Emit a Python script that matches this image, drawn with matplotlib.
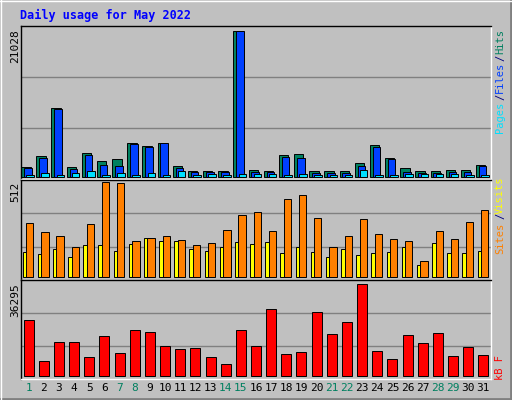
import matplotlib
matplotlib.use("Agg")
import matplotlib.pyplot as plt
import numpy as np

days = list(range(1, 32))
weekend = [1, 7, 8, 14, 15, 21, 22, 28, 29]
hits = [1522, 3092, 9942, 1522, 3520, 2379, 2664, 4947, 4519, 4947, 1665, 951, 951, 951, 21028, 1094,
        951, 3235, 3377, 951, 951, 951, 2093, 4662, 2807, 1380, 951, 951, 1094, 1094, 1808]
files = [1380, 2807, 9800, 1237, 3235, 1808, 1665, 4805, 4376, 4947, 1380, 809, 809, 809, 20931, 809,
         809, 2949, 2807, 666, 666, 666, 1665, 4376, 2664, 809, 666, 666, 809, 809, 1665]
pages = [380, 666, 380, 666, 951, 380, 666, 380, 666, 380, 951, 380, 523, 380, 523, 523,
         523, 380, 523, 380, 380, 380, 1094, 380, 380, 523, 523, 523, 523, 380, 380]
visits = [137, 126, 153, 109, 170, 170, 142, 176, 209, 192, 192, 153, 142, 164, 187, 176,
          187, 131, 159, 137, 109, 153, 120, 131, 137, 159, 65, 181, 131, 131, 142]
sites = [292, 242, 220, 159, 286, 512, 508, 192, 209, 220, 198, 170, 181, 253, 336, 353,
         248, 419, 442, 320, 159, 220, 314, 231, 203, 192, 87, 248, 203, 298, 359]
kbytes = [22043, 5808, 13332, 13332, 7392, 15708, 8976, 18084, 17292, 11748, 10560, 10956, 7392, 4620,
          18084, 11748, 26400, 8580, 9372, 25212, 16500, 21252, 36295, 9768, 6600, 16104, 12936,
          16896, 7788, 11352, 8184]

W, H = 512, 400
BG = "#C0C0C0"
fig = plt.figure(figsize=(W/100, H/100), dpi=100, facecolor=BG)
fig.add_artist(plt.Line2D([0, 1], [1/H, 1/H], color="#808080", lw=2))
fig.add_artist(plt.Line2D([1-1/W, 1-1/W], [0, 1], color="#808080", lw=2))
fig.add_artist(plt.Line2D([0, 1], [1-0.5/H, 1-0.5/H], color="white", lw=1))
fig.add_artist(plt.Line2D([0.5/W, 0.5/W], [0, 1], color="white", lw=1))

def ax_px(x0, y0, x1, y1):
    return fig.add_axes([x0/W, 1-y1/H, (x1-x0)/W, (y1-y0)/H])

L, R = 21, 491
x = np.arange(31)
mono = "DejaVu Sans Mono"

def style(ax, ymax):
    ax.set_facecolor(BG)
    ax.set_xlim(-0.5, 30.5)
    ax.set_ylim(0, ymax)
    ax.set_xticks([]); ax.set_yticks([])
    for s in ax.spines.values():
        s.set_color("black"); s.set_linewidth(1)
    ax.spines["bottom"].set_color("white"); ax.spines["right"].set_color("white")
    for f in (1/3, 2/3):
        ax.axhline(ymax*f, color="#808080", lw=1, zorder=0)

ax1 = ax_px(L, 26, R, 179)
m1 = max(hits)/0.96
style(ax1, m1)
base = m1*0.01
ax1.bar(x-0.18, hits, width=0.62, bottom=base, color="#008060", edgecolor="black", lw=0.7)
ax1.bar(x-0.05, files, width=0.5, bottom=base, color="#0040FF", edgecolor="black", lw=0.7)
ax1.bar(x+0.1, pages, width=0.5, bottom=base, color="#00E0FF", edgecolor="black", lw=0.7)

ax2 = ax_px(L, 180, R, 280)
m2 = max(sites)/0.95
style(ax2, m2)
ax2.bar(x-0.24, visits, width=0.3, bottom=m2*0.03, color="#FFFF00", edgecolor="black", lw=0.7)
ax2.bar(x+0.08, sites, width=0.48, bottom=m2*0.03, color="#FF8000", edgecolor="black", lw=0.7)

ax3 = ax_px(L, 280, R, 379)
m3 = max(kbytes)/0.93
style(ax3, m3)
ax3.bar(x, kbytes, width=0.66, bottom=m3*0.03, color="#FF0000", edgecolor="black", lw=0.7)

for i, d in enumerate(days):
    ax3.text(i, -0.09, str(d), transform=ax3.get_xaxis_transform(), ha="center", va="center",
             fontsize=8, family=mono, color="#008060" if d in weekend else "black")

fig.text(15/W, 1-29/H, "21028", rotation=90, ha="center", va="top", fontsize=8, family=mono)
fig.text(15/W, 1-182/H, "512", rotation=90, ha="center", va="top", fontsize=8, family=mono)
fig.text(15/W, 1-283/H, "36295", rotation=90, ha="center", va="top", fontsize=8, family=mono)

fig.text(20/W, 1-15/H, "Daily usage for May 2022", ha="left", va="center", fontsize=8.5,
         family=mono, weight="bold", color="#0000FF")

def rlabel(y, txt, color):
    fig.text(500/W, 1-y/H, txt, rotation=90, ha="center", va="center", fontsize=7.5, family=mono, color=color)
rlabel(41, "Hits", "#008060"); rlabel(58, "/", "#000080"); rlabel(77, "Files", "#0040FF")
rlabel(97, "/", "#000080"); rlabel(117, "Pages", "#00E0FF")
rlabel(195, "Visits", "#FFFF00"); rlabel(216, "/", "#000080"); rlabel(238, "Sites", "#FF8000")
rlabel(367, "kB F", "#FF0000")

fig.savefig("out.png", dpi=100, facecolor=BG)
